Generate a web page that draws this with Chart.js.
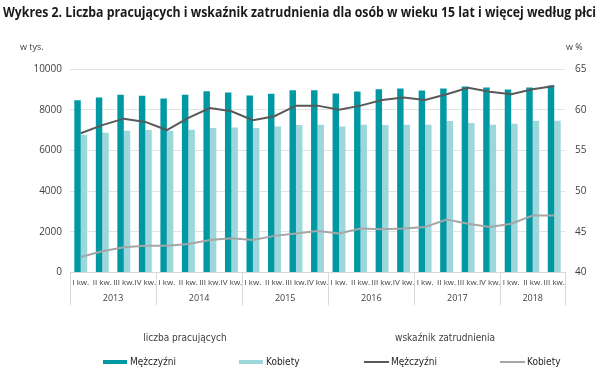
<!DOCTYPE html>
<html>
<head>
<meta charset="utf-8">
<script src="https://cdn.jsdelivr.net/npm/chart.js@4"></script>
<style>
  html, body { margin: 0; padding: 0; background: #fff; }
  #wrap { width: 603px; height: 372px; position: relative; }
</style>
</head>
<body>
<div id="wrap"><canvas id="myChart" width="603" height="372"></canvas></div>
<script>
// quarters 2013 Q1 .. 2018 Q3
const quarters = ['I kw.', 'II kw.', 'III kw.', 'IV kw.', 'I kw.', 'II kw.', 'III kw.', 'IV kw.',
    'I kw.', 'II kw.', 'III kw.', 'IV kw.', 'I kw.', 'II kw.', 'III kw.', 'IV kw.',
    'I kw.', 'II kw.', 'III kw.', 'IV kw.', 'I kw.', 'II kw.', 'III kw.'];
const years = ['2013', '2014', '2015', '2016', '2017', '2018'];

// liczba pracujacych, w tys.
const menWorking = [8460, 8600, 8740, 8680, 8550, 8740, 8910, 8840, 8700, 8780, 8950, 8950,
    8790, 8890, 9000, 9040, 8940, 9040, 9140, 9090, 8990, 9090, 9190];
const womenWorking = [6770, 6870, 6970, 7000, 6970, 7020, 7100, 7120, 7100, 7170, 7250, 7260,
    7170, 7260, 7250, 7260, 7260, 7450, 7350, 7260, 7310, 7460, 7460];

// wskaznik zatrudnienia, w %
const menRate = [57.1, 58.1, 58.9, 58.5, 57.5, 59.0, 60.2, 59.8, 58.7, 59.2, 60.5, 60.5,
    60.0, 60.5, 61.2, 61.5, 61.2, 61.9, 62.7, 62.2, 61.9, 62.5, 62.9];
const womenRate = [41.9, 42.6, 43.1, 43.3, 43.3, 43.5, 44.0, 44.2, 44.0, 44.5, 44.8, 45.1,
    44.8, 45.4, 45.3, 45.4, 45.6, 46.5, 46.0, 45.6, 46.0, 47.0, 47.0];

const narrow = '"DejaVu Sans Condensed", "Open Sans", sans-serif';
const title = 'Wykres 2. Liczba pracujących i wskaźnik zatrudnienia dla osób w wieku 15 lat i więcej według płci';

const extras = {
    id: 'extras',
    afterDraw(chart) {
        const ctx = chart.ctx;
        const x = chart.scales.x;
        const area = chart.chartArea;
        ctx.save();
        // title, squeezed to the width of the original
        ctx.fillStyle = '#1a1a1a';
        ctx.font = 'bold 15px "Open Sans", sans-serif';
        ctx.textBaseline = 'middle';
        ctx.textAlign = 'left';
        const w = ctx.measureText(title).width;
        ctx.save();
        ctx.translate(3, 13);
        ctx.scale(593 / w, 1);
        ctx.fillText(title, 0, 0);
        ctx.restore();
        // units
        ctx.font = '9px "Open Sans", sans-serif';
        ctx.fillStyle = '#404040';
        ctx.fillText('w tys.', 20, 47);
        ctx.fillText('w %', 566, 47);
        // year groups
        ctx.strokeStyle = '#d9d9d9';
        ctx.lineWidth = 1;
        ctx.textAlign = 'center';
        const step = x.getPixelForValue(1) - x.getPixelForValue(0);
        for (let g = 0; g <= years.length; g++) {
            const idx = g * 4;
            let px;
            if (idx >= quarters.length) px = area.right;
            else px = x.getPixelForValue(idx) - step / 2;
            ctx.beginPath();
            ctx.moveTo(Math.round(px) + 0.5, area.bottom);
            ctx.lineTo(Math.round(px) + 0.5, area.bottom + 33);
            ctx.stroke();
            if (g < years.length) {
                const last = Math.min(idx + 3, quarters.length - 1);
                const cx = (x.getPixelForValue(idx) + x.getPixelForValue(last)) / 2;
                ctx.fillStyle = '#404040';
                ctx.fillText(years[g], cx, area.bottom + 26);
            }
        }
        // legend
        ctx.font = '10px ' + narrow;
        ctx.fillStyle = '#404040';
        ctx.fillText('liczba pracujących', 185, 338);
        ctx.fillText('wskaźnik zatrudnienia', 445, 338);
        const items = [
            { x: 103, type: 'bar', color: '#0099a3', text: 'Mężczyźni' },
            { x: 239, type: 'bar', color: '#9dd6db', text: 'Kobiety' },
            { x: 364, type: 'line', color: '#595959', text: 'Mężczyźni' },
            { x: 500, type: 'line', color: '#a6a6a6', text: 'Kobiety' }
        ];
        ctx.textAlign = 'left';
        items.forEach(it => {
            ctx.fillStyle = it.color;
            if (it.type === 'bar') ctx.fillRect(it.x, 360, 24, 4);
            else ctx.fillRect(it.x, 361, 25, 2);
            ctx.fillStyle = '#262626';
            ctx.fillText(it.text, it.x + 27, 362);
        });
        ctx.restore();
    }
};

const ctx = document.getElementById('myChart').getContext('2d');
const myChart = new Chart(ctx, {
    data: {
        labels: quarters,
        datasets: [
            {
                type: 'line', label: 'Mężczyźni (wskaźnik)', data: menRate, yAxisID: 'y1',
                borderColor: '#595959', borderWidth: 2, pointRadius: 0, tension: 0, order: 0
            },
            {
                type: 'line', label: 'Kobiety (wskaźnik)', data: womenRate, yAxisID: 'y1',
                borderColor: '#a6a6a6', borderWidth: 2, pointRadius: 0, tension: 0, order: 1
            },
            {
                type: 'bar', label: 'Mężczyźni', data: menWorking, yAxisID: 'y',
                backgroundColor: '#0099a3', categoryPercentage: 0.6, barPercentage: 1.0, order: 2
            },
            {
                type: 'bar', label: 'Kobiety', data: womenWorking, yAxisID: 'y',
                backgroundColor: '#9dd6db', categoryPercentage: 0.6, barPercentage: 1.0, order: 3
            }
        ]
    },
    options: {
        responsive: false,
        animation: false,
        layout: { padding: { top: 69, left: 0, right: 0, bottom: 0 } },
        plugins: { legend: { display: false }, tooltip: { enabled: false } },
        scales: {
            x: {
                grid: { display: false, drawTicks: false },
                border: { color: '#d9d9d9' },
                ticks: {
                    autoSkip: false, maxRotation: 0, minRotation: 0, padding: 5,
                    color: '#404040', font: { family: '"Open Sans", sans-serif', size: 8 }
                },
                afterFit(scale) { scale.height = 99.5; }
            },
            y: {
                position: 'left', min: 0, max: 10000,
                ticks: { stepSize: 2000, color: '#404040', padding: 8,
                    font: { family: '"Open Sans", sans-serif', size: 10 },
                    callback: v => String(v) },
                grid: { color: '#e3e3e3', drawTicks: false },
                border: { display: false },
                afterFit(scale) { scale.width = 70; }
            },
            y1: {
                position: 'right', min: 40, max: 65,
                ticks: { stepSize: 5, color: '#404040', padding: 10,
                    font: { family: '"Open Sans", sans-serif', size: 10 } },
                grid: { display: false, drawTicks: false },
                border: { display: false },
                afterFit(scale) { scale.width = 38; }
            }
        }
    },
    plugins: [extras]
});
</script>
</body>
</html>
